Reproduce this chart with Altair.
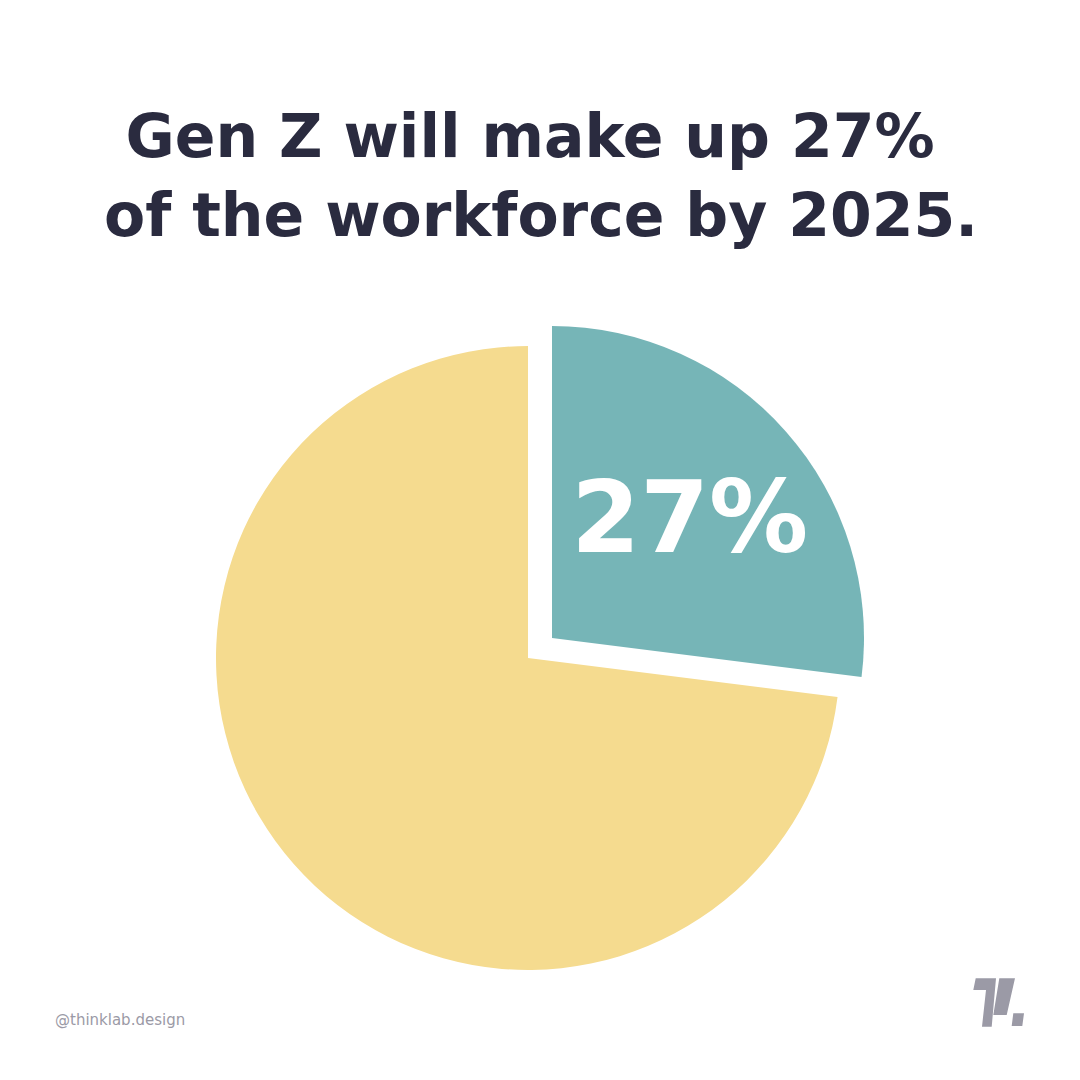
import altair as alt
import pandas as pd

# ---- data ----
categories = ["Gen Z", "Other generations"]
shares = [27, 73]
order = [0, 1]
title_lines = ["Gen Z will make up 27%", "of the workforce by 2025."]
credit = ["@thinklab.design"]

TEAL = "#76b5b7"
YELLOW = "#f5db8f"
NAVY = "#2a2b3f"
GRAY = "#9b9aa6"

df = pd.DataFrame({"category": categories, "share": shares, "order": order})

base = alt.Chart(df).transform_stack(
    stack="share", groupby=[], as_=["s0", "s1"], sort=[alt.SortField("order")]
)

theta_scale = alt.Scale(domain=[0, 100])

yellow = base.transform_filter(alt.datum.category == "Other generations").mark_arc(
    radius=312, color=YELLOW
).encode(
    theta=alt.Theta("s0:Q", scale=theta_scale),
    theta2="s1:Q",
    x=alt.value(520),
    y=alt.value(650),
)

teal = base.transform_filter(alt.datum.category == "Gen Z").mark_arc(
    radius=312, color=TEAL
).encode(
    theta=alt.Theta("s0:Q", scale=theta_scale),
    theta2="s1:Q",
    x=alt.value(544),
    y=alt.value(630),
)

label = base.transform_filter(alt.datum.category == "Gen Z").transform_calculate(
    mid="(datum.s0 + datum.s1) / 2", lab="datum.share + '%'"
).mark_text(
    radius=185, color="white", font="DejaVu Sans", fontWeight="bold", fontSize=99,
    align="center", baseline="middle", dy=6, dx=-1
).encode(
    theta=alt.Theta("mid:Q", scale=theta_scale, stack=False),
    text="lab:N",
    x=alt.value(544),
    y=alt.value(630),
)

title_style = dict(font="DejaVu Sans", fontWeight="bold", fontSize=60,
                   color=NAVY, align="center", baseline="alphabetic")
title1 = alt.Chart(pd.DataFrame({"t": [title_lines[0]]})).mark_text(**title_style).encode(
    text="t:N", x=alt.value(522), y=alt.value(149))
title2 = alt.Chart(pd.DataFrame({"t": [title_lines[1]]})).mark_text(**title_style).encode(
    text="t:N", x=alt.value(533), y=alt.value(228))

credit_txt = alt.Chart(pd.DataFrame({"c": credit})).mark_text(
    font="DejaVu Sans", fontSize=15, color=GRAY, align="left", baseline="alphabetic"
).encode(text="c:N", x=alt.value(47), y=alt.value(1017))

logo_path = (
    "M-0.896,-0.912 L-0.115,-0.912 L-0.281,0.95 L-0.654,0.95 L-0.5,-0.462 L-0.988,-0.462 Z "
    "M0.012,-0.912 L0.615,-0.912 L0.296,0.5 L-0.219,0.5 Z "
    "M0.55,0.435 L0.962,0.435 L0.896,0.923 L0.488,0.923 Z"
)
logo = alt.Chart(pd.DataFrame({"l": [0]})).mark_point(
    shape=logo_path, filled=True, color=GRAY, opacity=1, size=2704, strokeWidth=0
).encode(x=alt.value(991), y=alt.value(994))

chart = alt.layer(yellow, teal, label, title1, title2, credit_txt, logo).properties(
    width=1064, height=1064, background="white", padding=0,
    autosize=alt.AutoSizeParams(type="none"),
).configure_view(stroke=None)

chart.save("out.html", embed_options={"renderer": "svg", "actions": False})
